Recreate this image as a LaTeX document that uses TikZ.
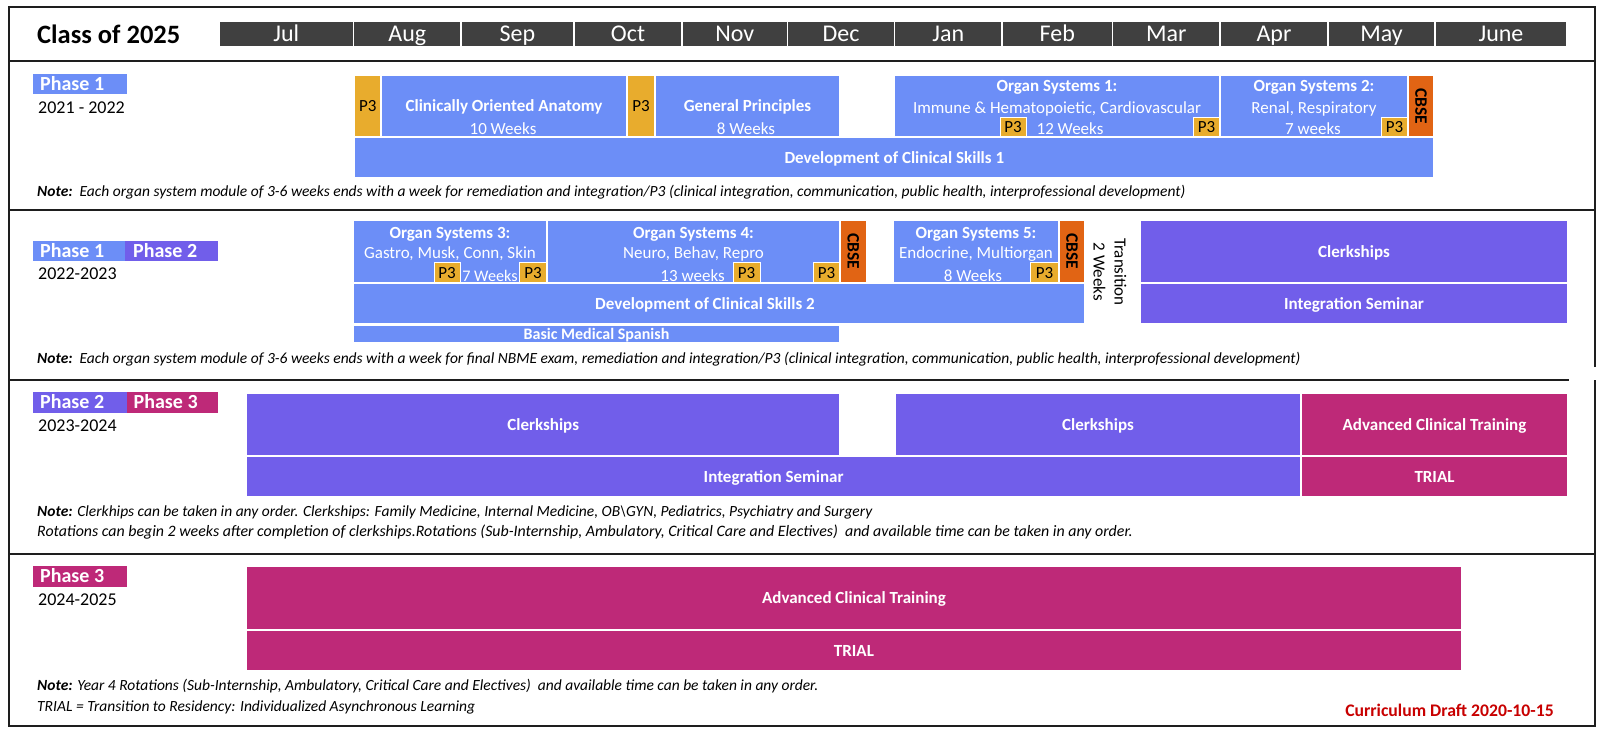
\documentclass[tikz,border=0pt]{standalone}
\usepackage{fontspec}
\setmainfont{Carlito}
\definecolor{cblue}{RGB}{108,142,247}
\definecolor{cpur}{RGB}{113,94,234}
\definecolor{cmag}{RGB}{190,41,120}
\definecolor{corg}{RGB}{232,172,45}
\definecolor{ccbse}{RGB}{225,100,20}
\definecolor{cbar}{RGB}{64,64,64}
\definecolor{cred}{RGB}{200,0,0}
\definecolor{cframe}{RGB}{30,30,30}
\newcommand{\myfs}[1]{\fontsize{#1}{#1}\selectfont}
\newcommand{\mybox}[7]{%
  \pgfmathsetmacro{\myBW}{#4-#2}\pgfmathsetmacro{\myBH}{#5-#3}%
  \node[blk,#6,anchor=north west,minimum width=\myBW pt,minimum height=\myBH pt] (#1) at (#2,#3) {#7};}
\tikzset{
  frm/.style={draw=cframe, line width=2.2pt},
  blk/.style={draw=white, line width=1.3pt, inner sep=0pt, outer sep=0pt},
  lab/.style={text=white, font=\bfseries\myfs{17}, text height=14.4pt, text depth=3.4pt},
  bluebar/.style={fill=cblue, lab},
  purbar/.style={fill=cpur, lab},
  magbar/.style={fill=cmag, lab},
  ptbox/.style={line width=1pt, fill=corg, text=black, font=\myfs{17}, text height=14.4pt, text depth=3.4pt},
  cbsebox/.style={fill=ccbse},
  cbsetxt/.style={rotate=-90, font=\bfseries\myfs{17.5}, inner sep=0pt},
  ttl/.style={text=white, font=\bfseries\myfs{17}, inner sep=0pt, text height=14.4pt, text depth=3.4pt},
  sub/.style={text=white, font=\myfs{17}, inner sep=0pt, text height=14.4pt, text depth=3.4pt},
  month/.style={line width=1.6pt, fill=cbar, text=white, font=\myfs{24}, text height=17pt, text depth=2pt},
  phbox/.style={draw=none},
  phs/.style={anchor=west, inner sep=0pt, text=white, font=\bfseries\myfs{20}, text height=16.9pt, text depth=4pt},
  yr/.style={anchor=west, inner sep=0pt, font=\myfs{18}, text height=15.2pt, text depth=3.6pt},
  nt/.style={anchor=west, inner sep=0pt, font=\itshape\myfs{15.5}, text height=13pt, text depth=3pt},
}
\begin{document}
\begin{tikzpicture}[x=1pt,y=-1pt]
\useasboundingbox[fill=white] (0,0) rectangle (1604,734);
% frame
\draw[frm] (1595,367) -- (1595,6.7) -- (8.7,6.7) -- (8.7,726) -- (1595,726) -- (1595,380);
\draw[frm] (8.7,61) -- (1595,61);
\draw[frm] (8.7,210) -- (1595,210);
\draw[frm] (8.7,380) -- (1569,380);
\draw[frm] (8.7,554) -- (1595,554);
% header
\node[anchor=west, inner sep=0pt, font=\bfseries\myfs{26.5}, text height=22pt, text depth=5pt] (title) at (37,34.5) {Class of 2025};
\foreach \a/\b/\m [count=\i] in {219/353.5/Jul, 353.5/461/Aug, 461/574/Sep, 574/682/Oct, 682/787.5/Nov, 787.5/894.5/Dec, 894.5/1002/Jan, 1002/1112.5/Feb, 1112.5/1220/Mar, 1220/1328/Apr, 1328/1435/May, 1435/1567/June}
  {\mybox{m\i}{\a}{21}{\b}{47}{month}{\m}}
% ---------- Phase 1 ----------
\mybox{phA}{33}{74}{126.5}{94}{phbox,fill=cblue}{}
\node[phs] (phAt) at ([xshift=7pt]phA.west) {Phase 1};
\node[yr] (yrA) at (38,108) {2021 - 2022};
\mybox{pa}{354.6}{75}{381}{137}{ptbox}{P3}
\mybox{coa}{381}{75}{627}{137}{bluebar}{}
\node[ttl] (coat) at (504,106) {Clinically Oriented Anatomy};
\node[sub] (coaw) at (503,128.5) {10 Weeks};
\mybox{pb}{627}{75}{655}{137}{ptbox}{P3}
\mybox{gp}{655}{75}{840}{137}{bluebar}{}
\node[ttl] (gpt) at (747.5,106) {General Principles};
\node[sub] (gpw) at (746,128.5) {8 Weeks};
\mybox{osa}{894}{75}{1220}{137}{bluebar}{}
\node[ttl] (osat) at (1057,86) {Organ Systems 1:};
\node[sub] (osas) at (1057,107.5) {Immune \& Hematopoietic, Cardiovascular};
\mybox{pc}{1000}{117}{1026}{137}{ptbox}{P3}
\node[sub] (osaw) at (1070,128.5) {12 Weeks};
\mybox{pd}{1193}{117}{1220}{137}{ptbox}{P3}
\mybox{osb}{1220}{75}{1408}{137}{bluebar}{}
\node[ttl] (osbt) at (1314,86) {Organ Systems 2:};
\node[sub] (osbs) at (1314,107.5) {Renal, Respiratory};
\node[sub] (osbw) at (1313,128.5) {7 weeks};
\mybox{pe}{1381}{117}{1408}{137}{ptbox}{P3}
\mybox{cba}{1408}{75}{1434}{137}{cbsebox}{}
\node[cbsetxt] (cbat) at (cba.center) {CBSE};
\mybox{dva}{354.6}{137}{1434}{178}{bluebar}{Development of Clinical Skills 1}
\node[nt] (ntA) at (37,191.7) {\textbf{Note:}\ \ Each organ system module of 3-6 weeks ends with a week for remediation and integration/P3 (clinical integration, communication, public health, interprofessional development)};
% ---------- Phase 1 / 2 ----------
\mybox{phB}{33}{241}{125}{261}{phbox,fill=cblue}{}
\node[phs] (phBt) at ([xshift=7pt]phB.west) {Phase 1};
\mybox{phC}{125}{241}{218.4}{261}{phbox,fill=cpur}{}
\node[phs] (phCt) at ([xshift=8pt]phC.west) {Phase 2};
\node[yr] (yrB) at (38,274) {2022-2023};
\mybox{osc}{353}{220}{547}{283}{bluebar}{}
\node[ttl] (osct) at (450,232.5) {Organ Systems 3:};
\node[sub] (oscs) at (450,253.3) {Gastro, Musk, Conn, Skin};
\mybox{pf}{434}{262}{460}{283}{ptbox}{P3}
\node[sub, font=\myfs{16.2}] (oscw) at (490,275.5) {7 Weeks};
\mybox{pg}{519}{262}{547}{283}{ptbox}{P3}
\mybox{osd}{547}{220}{840}{283}{bluebar}{}
\node[ttl] (osdt) at (693.5,232.5) {Organ Systems 4:};
\node[sub] (osds) at (693.5,253.3) {Neuro, Behav, Repro};
\node[sub] (osdw) at (692.6,275.5) {13 weeks};
\mybox{ph}{733}{262}{760}{283}{ptbox}{P3}
\mybox{pi}{813}{262}{840}{283}{ptbox}{P3}
\mybox{cbb}{840}{220}{866.7}{283}{cbsebox}{}
\node[cbsetxt] (cbbt) at (cbb.center) {CBSE};
\mybox{ose}{893}{220}{1059}{283}{bluebar}{}
\node[ttl] (oset) at (976,232.5) {Organ Systems 5:};
\node[sub] (oses) at (976,253.3) {Endocrine, Multiorgan};
\node[sub] (osew) at (973,275.5) {8 Weeks};
\mybox{pj}{1030}{262}{1059}{283}{ptbox}{P3}
\mybox{cbc}{1059}{220}{1085}{283}{cbsebox}{}
\node[cbsetxt] (cbct) at (cbc.center) {CBSE};
\node[rotate=-90, align=center, inner sep=0pt, font=\fontsize{17}{21}\selectfont] (trn) at (1110,272) {Transition\\2 Weeks};
\mybox{clA}{1140}{220}{1568}{283}{purbar}{Clerkships}
\mybox{isA}{1140}{283}{1568}{324}{purbar}{Integration Seminar}
\mybox{dvb}{353}{283}{1085}{324}{bluebar}{}
\node[ttl] (dvbt) at (705,303.5) {Development of Clinical Skills 2};
\mybox{spn}{353}{325.5}{840}{343}{bluebar,font=\bfseries\myfs{16},text height=13.3pt,text depth=3.2pt}{Basic Medical Spanish}
\node[nt] (ntB) at (37,358) {\textbf{Note:}\ \ Each organ system module of 3-6 weeks ends with a week for final NBME exam, remediation and integration/P3 (clinical integration, communication, public health, interprofessional development)};
% ---------- Phase 2 / 3 ----------
\mybox{phD}{33}{392}{126.5}{412.7}{phbox,fill=cpur}{}
\node[phs] (phDt) at ([xshift=7pt]phD.west) {Phase 2};
\mybox{phE}{126.5}{392}{218.4}{412.7}{phbox,fill=cmag}{}
\node[phs] (phEt) at ([xshift=7pt]phE.west) {Phase 3};
\node[yr] (yrC) at (38,426) {2023-2024};
\mybox{clB}{246.4}{393}{840}{456}{purbar}{Clerkships}
\mybox{clC}{895}{393}{1301}{456}{purbar}{Clerkships}
\mybox{acA}{1301}{393}{1568}{456}{magbar}{Advanced Clinical Training}
\mybox{isB}{246.4}{456}{1301}{497}{purbar}{Integration Seminar}
\mybox{trA}{1301}{456}{1568}{497}{magbar}{TRIAL}
\node[nt] (ntC) at (37,511.7) {\textbf{Note:} Clerkhips can be taken in any order. Clerkships: Family Medicine, Internal Medicine, OB\textbackslash GYN, Pediatrics, Psychiatry and Surgery};
\node[nt, font=\itshape\myfs{15.9}] (ntD) at (37,531.7) {Rotations can begin 2 weeks after completion of clerkships.Rotations (Sub-Internship, Ambulatory, Critical Care and Electives)\ \ and available time can be taken in any order.};
% ---------- Phase 3 ----------
\mybox{phF}{33}{566}{126.5}{587}{phbox,fill=cmag}{}
\node[phs] (phFt) at ([xshift=7pt]phF.west) {Phase 3};
\node[yr] (yrD) at (38,600) {2024-2025};
\mybox{acB}{246.4}{566}{1461.5}{630}{magbar}{Advanced Clinical Training}
\mybox{trB}{246.4}{630}{1461.5}{671}{magbar}{TRIAL}
\node[nt] (ntE) at (37,685) {\textbf{Note:} Year 4 Rotations (Sub-Internship, Ambulatory, Critical Care and Electives)\ \ and available time can be taken in any order.};
\node[nt] (ntF) at (37,706.7) {TRIAL = Transition to Residency: Individualized Asynchronous Learning};
\node[anchor=east, inner sep=0pt, text=cred, font=\bfseries\myfs{17.7}, text height=14.9pt, text depth=3.5pt] (draft) at (1554,711) {Curriculum Draft 2020-10-15};
\end{tikzpicture}
\end{document}
